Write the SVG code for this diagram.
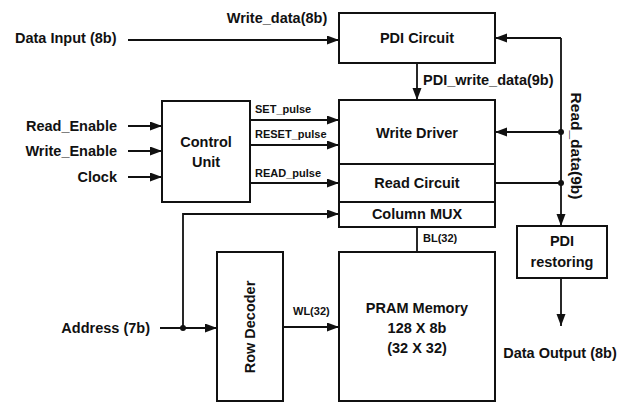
<svg xmlns="http://www.w3.org/2000/svg" width="632" height="403" viewBox="0 0 632 403">
<style>
.box{fill:#fff;stroke:#111;stroke-width:2}
.ln{fill:none;stroke:#111;stroke-width:1.8}
.t{font-family:"Liberation Sans",Arial,sans-serif;font-weight:bold;font-size:14.5px;fill:#111}
.s{font-family:"Liberation Sans",Arial,sans-serif;font-weight:bold;font-size:11px;fill:#111}
.c{text-anchor:middle}
</style>
<defs>
<marker id="ah" markerUnits="userSpaceOnUse" markerWidth="13" markerHeight="10" refX="12" refY="4.5" orient="auto">
<path d="M0,0 L12,4.5 L0,9 z" fill="#111"/>
</marker>
</defs>
<rect width="632" height="403" fill="#fff"/>

<g id="connectors">
<path class="ln" d="M128,40 H339" marker-end="url(#ah)"/>
<path class="ln" d="M128,126 H162" marker-end="url(#ah)"/>
<path class="ln" d="M128,151 H162" marker-end="url(#ah)"/>
<path class="ln" d="M128,177 H162" marker-end="url(#ah)"/>
<path class="ln" d="M250,120 H339" marker-end="url(#ah)"/>
<path class="ln" d="M250,145 H339" marker-end="url(#ah)"/>
<path class="ln" d="M250,183 H339" marker-end="url(#ah)"/>
<path class="ln" d="M417,63 V100" marker-end="url(#ah)"/>
<path class="ln" d="M561,38 H495" marker-end="url(#ah)"/>
<path class="ln" d="M561,38 V226" marker-end="url(#ah)"/>
<path class="ln" d="M561,132 H495" marker-end="url(#ah)"/>
<path class="ln" d="M495,183 H561"/>
<path class="ln" d="M561,278 V326" marker-end="url(#ah)"/>
<path class="ln" d="M417,227 V252"/>
<path class="ln" d="M160,328 H217" marker-end="url(#ah)"/>
<path class="ln" d="M183,328 V214 H339" marker-end="url(#ah)"/>
<path class="ln" d="M283,327 H339" marker-end="url(#ah)"/>
<circle cx="561" cy="132" r="3" fill="#111"/>
<circle cx="561" cy="183" r="3" fill="#111"/>
<circle cx="183" cy="328" r="3" fill="#111"/>
<text class="t c" x="277" y="23">Write_data(8b)</text>
<text class="t" x="423" y="85">PDI_write_data(9b)</text>
<text class="t c" transform="translate(571,146) rotate(90)" style="font-size:15.5px">Read_data(9b)</text>
<text class="s" x="255" y="113">SET_pulse</text>
<text class="s" x="255" y="138">RESET_pulse</text>
<text class="s" x="255" y="177">READ_pulse</text>
<text class="s" x="423" y="242">BL(32)</text>
<text class="s" x="293" y="315">WL(32)</text>
</g>

<g id="inputs">
<text class="t" x="15" y="43">Data Input (8b)</text>
<text class="t" x="117" y="131" text-anchor="end">Read_Enable</text>
<text class="t" x="117" y="156" text-anchor="end">Write_Enable</text>
<text class="t" x="117" y="182" text-anchor="end">Clock</text>
<text class="t" x="150" y="333" text-anchor="end">Address (7b)</text>
<text class="t c" x="560" y="358">Data Output (8b)</text>
</g>

<g id="pdi-circuit">
<rect class="box" x="339" y="13" width="156" height="50"/>
<text class="t c" x="417" y="43">PDI Circuit</text>
</g>

<g id="control-unit">
<rect class="box" x="162" y="101" width="88" height="101"/>
<text class="t c" x="206" y="147">Control</text>
<text class="t c" x="206" y="167">Unit</text>
</g>

<g id="write-driver">
<rect class="box" x="339" y="100" width="156" height="64"/>
<text class="t c" x="417" y="138">Write Driver</text>
</g>

<g id="read-circuit">
<rect class="box" x="339" y="164" width="156" height="38"/>
<text class="t c" x="417" y="188">Read Circuit</text>
</g>

<g id="column-mux">
<rect class="box" x="339" y="202" width="156" height="25"/>
<text class="t c" x="417" y="219">Column MUX</text>
</g>

<g id="pram-memory">
<rect class="box" x="339" y="252" width="156" height="149"/>
<text class="t c" x="417" y="313">PRAM Memory</text>
<text class="t c" x="417" y="333">128 X 8b</text>
<text class="t c" x="417" y="353">(32 X 32)</text>
</g>

<g id="row-decoder">
<rect class="box" x="217" y="252" width="66" height="149"/>
<text class="t c" transform="translate(255,327) rotate(-90)">Row Decoder</text>
</g>

<g id="pdi-restoring">
<rect class="box" x="517" y="226" width="90" height="52"/>
<text class="t c" x="562" y="246">PDI</text>
<text class="t c" x="562" y="267">restoring</text>
</g>
</svg>
